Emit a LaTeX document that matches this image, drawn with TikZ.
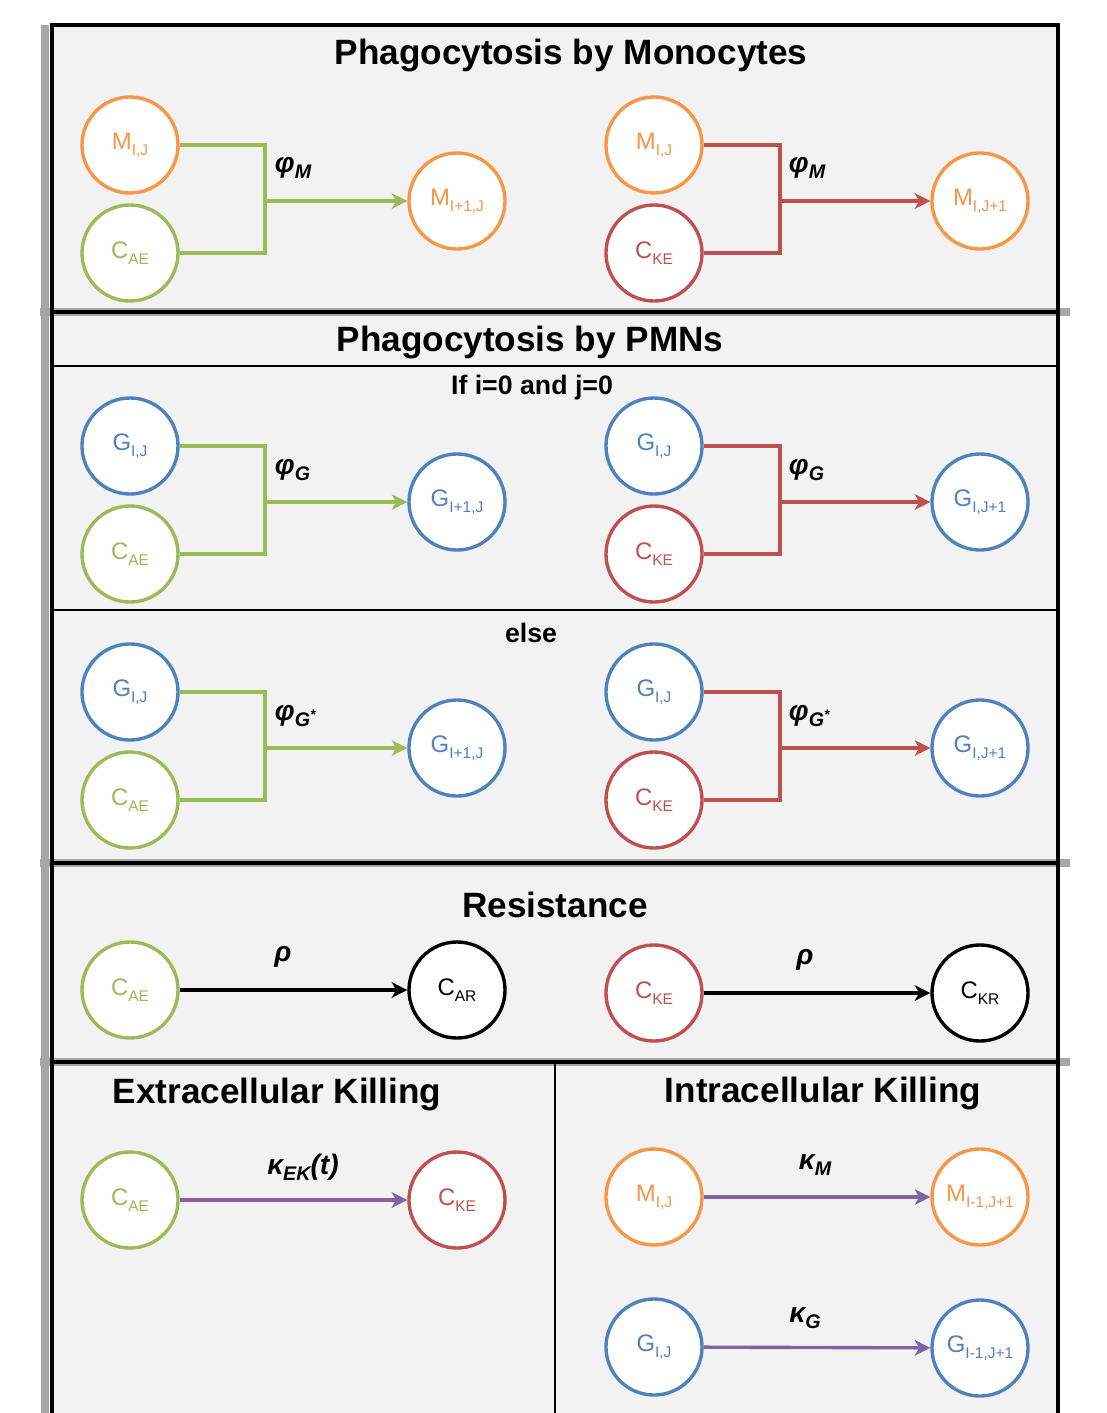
\documentclass[tikz,border=0pt]{standalone}
\usepackage{fontspec}
\setmainfont{Liberation Sans}
\usetikzlibrary{arrows.meta}

\definecolor{orgc}{HTML}{F79646}
\definecolor{grnc}{HTML}{9BBB59}
\definecolor{redc}{HTML}{C0504D}
\definecolor{bluc}{HTML}{4F81BD}
\definecolor{purc}{HTML}{8064A2}
\definecolor{bgc}{HTML}{F2F2F2}

\newcommand\lo[1]{\raisebox{-0.5ex}{\fontsize{11}{11}\selectfont #1}}
\newcommand\rlo[1]{\raisebox{-0.4ex}{\fontsize{14}{14}\selectfont #1}}

\tikzset{
  cell/.style={circle,draw=#1,text=#1,fill=white,line width=2.4pt,
    minimum size=2.4cm,inner sep=0pt,font=\fontsize{17}{20}\selectfont},
  head/.style={font=\fontsize{25}{28}\selectfont\bfseries},
  cond/.style={font=\fontsize{19}{22}\selectfont\bfseries},
  rate/.style={font=\fontsize{20}{24}\selectfont\bfseries\itshape},
  link/.style={draw=#1,line width=2.4pt},
  >={Stealth[length=11pt,width=11pt,inset=3pt]}
}

\begin{document}
\begin{tikzpicture}[x=0.025cm,y=-0.025cm]
\useasboundingbox (0,0) rectangle (1106,1413);

% frame
\fill[bgc] (52,25) rectangle (1058,1413);
\draw[gray!70,line width=6pt] (45,25) -- (45,1413);
\draw[gray!70,line width=6pt] (40,312) -- (1070,312);
\draw[gray!70,line width=6pt] (40,863) -- (1070,863);
\draw[gray!70,line width=6pt] (40,1062) -- (1070,1062);
\draw[line width=2.4pt] (52,1413) -- (52,25) -- (1058,25) -- (1058,1413);
\draw[line width=2.4pt] (52,312) -- (1058,312);
\draw[line width=1.2pt] (52,366) -- (1058,366);
\draw[line width=1.2pt] (52,610) -- (1058,610);
\draw[line width=2.4pt] (52,863) -- (1058,863);
\draw[line width=2.4pt] (52,1062) -- (1058,1062);
\draw[line width=1.6pt] (555,1062) -- (555,1413);

% titles
\node[head] (t1) at (571,55) {Phagocytosis by Monocytes};
\node[head] (t2) at (530,342) {Phagocytosis by PMNs};
\node[cond] (c1) at (532,388) {If i=0 and j=0};
\node[cond] (c2) at (531,633) {else};
\node[head] (t3) at (555,905) {Resistance};
\node[head] (t4) at (277,1094) {Extracellular Killing};
\node[head] (t5) at (823,1093) {Intracellular Killing};

% monocytes
\node[cell=orgc] (ma) at (130,145) {M\lo{I,J}};
\node[cell=grnc] (ca) at (130,253) {C\lo{AE}};
\node[cell=orgc] (mb) at (457,201) {M\lo{I+1,J}};
\coordinate (ja) at (265,201);
\draw[link=grnc] (ma.east) -| (ja) |- (ca.east);
\draw[link=grnc,->] (ja) -- (mb.west);
\node[rate,anchor=west] (ra) at (270,168) {φ\rlo{M}};

\node[cell=orgc] (mc) at (654,145) {M\lo{I,J}};
\node[cell=redc] (cb) at (654,253) {C\lo{KE}};
\node[cell=orgc] (md) at (980,201) {M\lo{I,J+1}};
\coordinate (jb) at (780,201);
\draw[link=redc] (mc.east) -| (jb) |- (cb.east);
\draw[link=redc,->] (jb) -- (md.west);
\node[rate,anchor=west] (rb) at (784,168) {φ\rlo{M}};

% PMNs, i=0 and j=0
\node[cell=bluc] (ga) at (130,446) {G\lo{I,J}};
\node[cell=grnc] (cc) at (130,554) {C\lo{AE}};
\node[cell=bluc] (gb) at (457,502) {G\lo{I+1,J}};
\coordinate (jc) at (265,502);
\draw[link=grnc] (ga.east) -| (jc) |- (cc.east);
\draw[link=grnc,->] (jc) -- (gb.west);
\node[rate,anchor=west] (rc) at (270,470) {φ\rlo{G}};

\node[cell=bluc] (gc) at (654,446) {G\lo{I,J}};
\node[cell=redc] (cd) at (654,554) {C\lo{KE}};
\node[cell=bluc] (gd) at (980,502) {G\lo{I,J+1}};
\coordinate (jd) at (780,502);
\draw[link=redc] (gc.east) -| (jd) |- (cd.east);
\draw[link=redc,->] (jd) -- (gd.west);
\node[rate,anchor=west] (rd) at (784,470) {φ\rlo{G}};

% PMNs, else
\node[cell=bluc] (ge) at (130,692) {G\lo{I,J}};
\node[cell=grnc] (ce) at (130,800) {C\lo{AE}};
\node[cell=bluc] (gf) at (457,748) {G\lo{I+1,J}};
\coordinate (je) at (265,748);
\draw[link=grnc] (ge.east) -| (je) |- (ce.east);
\draw[link=grnc,->] (je) -- (gf.west);
\node[rate,anchor=west] (re) at (270,716) {φ\rlo{G\textsuperscript{*}}};

\node[cell=bluc] (gg) at (654,692) {G\lo{I,J}};
\node[cell=redc] (cf) at (654,800) {C\lo{KE}};
\node[cell=bluc] (gh) at (980,748) {G\lo{I,J+1}};
\coordinate (jf) at (780,748);
\draw[link=redc] (gg.east) -| (jf) |- (cf.east);
\draw[link=redc,->] (jf) -- (gh.west);
\node[rate,anchor=west] (rf) at (784,716) {φ\rlo{G\textsuperscript{*}}};

% resistance
\node[cell=grnc] (cg) at (130,990) {C\lo{AE}};
\node[cell=black] (ch) at (457,990) {C\lo{AR}};
\draw[link=black,->] (cg) -- (ch);
\node[rate] (rg) at (283,957) {ρ};
\node[cell=redc] (ci) at (654,993) {C\lo{KE}};
\node[cell=black] (cj) at (980,993) {C\lo{KR}};
\draw[link=black,->] (ci) -- (cj);
\node[rate] (rh) at (805,960) {ρ};

% killing
\node[cell=grnc] (ck) at (130,1200) {C\lo{AE}};
\node[cell=redc] (cl) at (457,1200) {C\lo{KE}};
\draw[link=purc,->] (ck) -- (cl);
\node[rate] (ri) at (303,1167) {κ\rlo{EK}(t)};

\node[cell=orgc] (me) at (654,1197) {M\lo{I,J}};
\node[cell=orgc] (mf) at (980,1197) {M\lo{I-1,J+1}};
\draw[link=purc,->] (me) -- (mf);
\node[rate] (rj) at (815,1165) {κ\rlo{M}};
\node[cell=bluc] (gi) at (654,1347) {G\lo{I,J}};
\node[cell=bluc] (gj) at (980,1348) {G\lo{I-1,J+1}};
\draw[link=purc,->] (gi) -- (gj);
\node[rate] (rk) at (805,1318) {κ\rlo{G}};
\end{tikzpicture}
\end{document}
